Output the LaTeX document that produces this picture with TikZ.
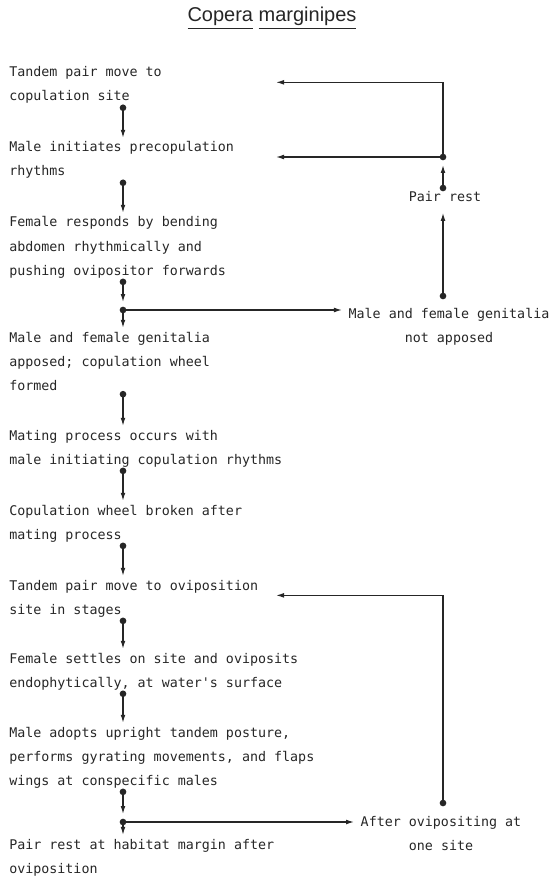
\documentclass[tikz,border=0pt]{standalone}
\usepackage{fontspec}
\usetikzlibrary{arrows.meta,calc}
\newfontfamily\stagefont{DejaVu Sans Mono}
\newfontfamily\titlefont{Liberation Sans}
\tikzset{
  stage/.style={anchor=base west, align=left, inner sep=0pt, outer ysep=3pt, text=black!85,
    font=\stagefont\fontsize{10pt}{18pt}\selectfont},
  outcome/.style={anchor=base, align=center, inner sep=0pt, outer xsep=5pt, outer ysep=8pt, text=black!85,
    font=\stagefont\fontsize{10pt}{18pt}\selectfont},
  flow/.style={draw=black!85, line width=0.9pt, -{Latex[length=6pt,width=3.6pt]}},
  dot/.style={circle, fill=black!85, inner sep=0pt, minimum size=5pt},
  tojunction/.style={shorten >=6pt},
}
\begin{document}
\begin{tikzpicture}[x=0.75pt,y=0.75pt,yscale=-1,xscale=1]
\useasboundingbox (0,0) rectangle (555,877);
% columns of the connectors
\coordinate (col) at (123,0);
\coordinate (back) at (276,0);

% Title
\node (title) [anchor=base, text=black!85, font=\titlefont\fontsize{15pt}{18pt}\selectfont] at (272,22) {\underline{Copera} \underline{marginipes}};

% Text Nodes: main sequence (placed at the baseline of the last line)
\node (t1) [stage] at (9,101) {Tandem pair move to\\copulation site};
\node (t2) [stage] at (9,176) {Male initiates precopulation\\rhythms};
\node (t3) [stage] at (9,275) {Female responds by bending\\abdomen rhythmically and\\pushing ovipositor forwards};
\node (t4) [stage] at (9,390) {Male and female genitalia\\apposed; copulation wheel\\formed};
\node (t5) [stage] at (9,464) {Mating process occurs with\\male initiating copulation rhythms};
\node (t6) [stage] at (9,539) {Copulation wheel broken after\\mating process};
\node (t7) [stage] at (9,614) {Tandem pair move to oviposition\\site in stages};
\node (t8) [stage] at (9,687) {Female settles on site and oviposits\\endophytically, at water\textquotesingle s surface};
\node (t9) [stage] at (9,785) {Male adopts upright tandem posture,\\performs gyrating movements, and flaps\\wings at conspecific males};
\node (t10) [stage] at (9,873) {Pair rest at habitat margin after\\oviposition};

% Text Nodes: side branches
\node (r1) [outcome] at (449,342) {Male and female genitalia\\not apposed};
\node (r2) [outcome] at (445,202) {Pair rest};
\node (r3) [outcome] at (441,850) {After ovipositing at\\one site};

% junctions and dots of the side branches
\coordinate (j1) at (123,310);
\coordinate (j2) at (123,822);
\coordinate (j3) at (443,157);
\coordinate (r1dot) at (443,296);
\coordinate (r2dot) at (443,188);
\coordinate (r3dot) at (443,803);

%Straight Lines: main sequence
\draw [flow] (t1.south -| col) node[dot]{} -- (t2.north -| col);
\draw [flow] (t2.south -| col) node[dot]{} -- (t3.north -| col);
\draw [flow,tojunction] (t3.south -| col) node[dot]{} -- (j1);
\draw [flow] (j1) node[dot]{} -- (t4.north -| col);
\draw [flow] (t4.south -| col) node[dot]{} -- (t5.north -| col);
\draw [flow] (t5.south -| col) node[dot]{} -- (t6.north -| col);
\draw [flow] (t6.south -| col) node[dot]{} -- (t7.north -| col);
\draw [flow] (t7.south -| col) node[dot]{} -- (t8.north -| col);
\draw [flow] (t8.south -| col) node[dot]{} -- (t9.north -| col);
\draw [flow,tojunction] (t9.south -| col) node[dot]{} -- (j2);
\draw [flow] (j2) node[dot]{} -- (t10.north -| col);

%Straight Lines: side branches
\draw [flow] (j1) -- (j1 -| r1.west);
\draw [flow] (j2) -- (j2 -| r3.west);
\draw [flow] (r1dot) node[dot]{} -- (r2.south -| r1dot);
\draw [flow,tojunction] (r2dot) node[dot]{} -- (j3);
\draw [flow] (j3) node[dot]{} -- (j3 -| back);
\draw [flow] (j3) |- ($(t1.center -| back)+(0,-3)$);
\draw [flow] (r3dot) node[dot]{} |- ($(t7.center -| back)+(0,-3)$);

\end{tikzpicture}
\end{document}
